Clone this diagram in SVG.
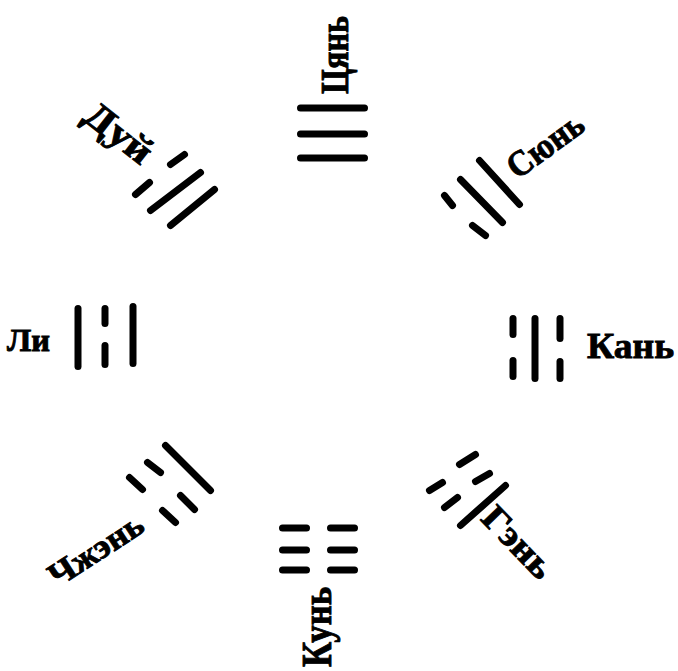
<svg xmlns="http://www.w3.org/2000/svg" width="678" height="671" viewBox="0 0 678 671">
<style>
.ln{stroke:#000;stroke-width:7;stroke-linecap:round;fill:none}
.lb{font-family:"Liberation Serif","DejaVu Serif",serif;font-weight:bold;fill:#000;stroke:#000;stroke-width:0.9}
</style>
<rect width="678" height="671" fill="#fff"/>
<g id="qian">
<line class="ln" x1="300.5" y1="108" x2="364.5" y2="108"/>
<line class="ln" x1="300.5" y1="134" x2="364.5" y2="134"/>
<line class="ln" x1="300.5" y1="158" x2="364.5" y2="158"/>
<text class="lb" transform="translate(348,55) rotate(-90)" x="0" y="0" font-size="40" text-anchor="middle" textLength="78" lengthAdjust="spacingAndGlyphs">Цянь</text>
</g>
<g id="kun">
<line class="ln" x1="282.5" y1="528" x2="306.5" y2="528"/>
<line class="ln" x1="330.5" y1="528" x2="354.5" y2="528"/>
<line class="ln" x1="282.5" y1="550" x2="306.5" y2="550"/>
<line class="ln" x1="330.5" y1="550" x2="354.5" y2="550"/>
<line class="ln" x1="282.5" y1="570" x2="306.5" y2="570"/>
<line class="ln" x1="330.5" y1="570" x2="354.5" y2="570"/>
<text class="lb" transform="translate(331,627) rotate(-90)" x="0" y="0" font-size="42" text-anchor="middle" textLength="80" lengthAdjust="spacingAndGlyphs">Кунь</text>
</g>
<g id="li">
<line class="ln" x1="78" y1="308.5" x2="78" y2="366.5"/>
<line class="ln" x1="105" y1="308.5" x2="105" y2="323.5"/>
<line class="ln" x1="105" y1="345.5" x2="105" y2="364.5"/>
<line class="ln" x1="133" y1="306.5" x2="133" y2="363.5"/>
<text class="lb" x="7" y="351" font-size="32" textLength="43" lengthAdjust="spacingAndGlyphs">Ли</text>
</g>
<g id="kan">
<line class="ln" x1="513" y1="318.5" x2="513" y2="334.5"/>
<line class="ln" x1="513" y1="360.5" x2="513" y2="376.5"/>
<line class="ln" x1="535" y1="318.5" x2="535" y2="378.5"/>
<line class="ln" x1="560" y1="318.5" x2="560" y2="338.5"/>
<line class="ln" x1="560" y1="361.5" x2="560" y2="378.5"/>
<text class="lb" x="587" y="358" font-size="36" textLength="87" lengthAdjust="spacingAndGlyphs">Кань</text>
</g>
<g id="dui">
<line class="ln" x1="170.5" y1="225.5" x2="214.5" y2="189.5"/>
<line class="ln" x1="150.5" y1="210.5" x2="200.5" y2="172.5"/>
<line class="ln" x1="135.5" y1="194.5" x2="149.5" y2="182.5"/>
<line class="ln" x1="170.5" y1="164.5" x2="184.5" y2="154.5"/>
<text class="lb" transform="translate(118,134) rotate(38)" x="0" y="11" font-size="38" text-anchor="middle" textLength="76" lengthAdjust="spacingAndGlyphs">Дуй</text>
</g>
<g id="xun">
<line class="ln" x1="479.5" y1="160.5" x2="519.5" y2="204.5"/>
<line class="ln" x1="460.5" y1="179.5" x2="502.5" y2="222.5"/>
<line class="ln" x1="444.5" y1="195.5" x2="452.5" y2="205.5"/>
<line class="ln" x1="472.5" y1="225.5" x2="485.5" y2="235.5"/>
<text class="lb" transform="translate(545,145) rotate(-36)" x="0" y="12" font-size="36" text-anchor="middle" textLength="86" lengthAdjust="spacingAndGlyphs">Сюнь</text>
</g>
<g id="zhen">
<line class="ln" x1="165.5" y1="445.5" x2="210.5" y2="490.5"/>
<line class="ln" x1="147.5" y1="462.5" x2="160.5" y2="472.5"/>
<line class="ln" x1="180.5" y1="495.5" x2="194.5" y2="509.5"/>
<line class="ln" x1="129.5" y1="477.5" x2="142.5" y2="489.5"/>
<line class="ln" x1="162.5" y1="510.5" x2="175.5" y2="522.5"/>
<text class="lb" transform="translate(96,550) rotate(-33)" x="0" y="11" font-size="34" text-anchor="middle" textLength="106" lengthAdjust="spacingAndGlyphs">Чжэнь</text>
</g>
<g id="gen">
<line class="ln" x1="460.5" y1="525.5" x2="505.5" y2="485.5"/>
<line class="ln" x1="444.5" y1="507.5" x2="457.5" y2="497.5"/>
<line class="ln" x1="475.5" y1="481.5" x2="489.5" y2="473.5"/>
<line class="ln" x1="429.5" y1="490.5" x2="442.5" y2="482.5"/>
<line class="ln" x1="459.5" y1="464.5" x2="475.5" y2="454.5"/>
<text class="lb" transform="translate(518,542) rotate(46)" x="0" y="12" font-size="36" text-anchor="middle" textLength="86" lengthAdjust="spacingAndGlyphs">Гэнь</text>
</g>
</svg>
